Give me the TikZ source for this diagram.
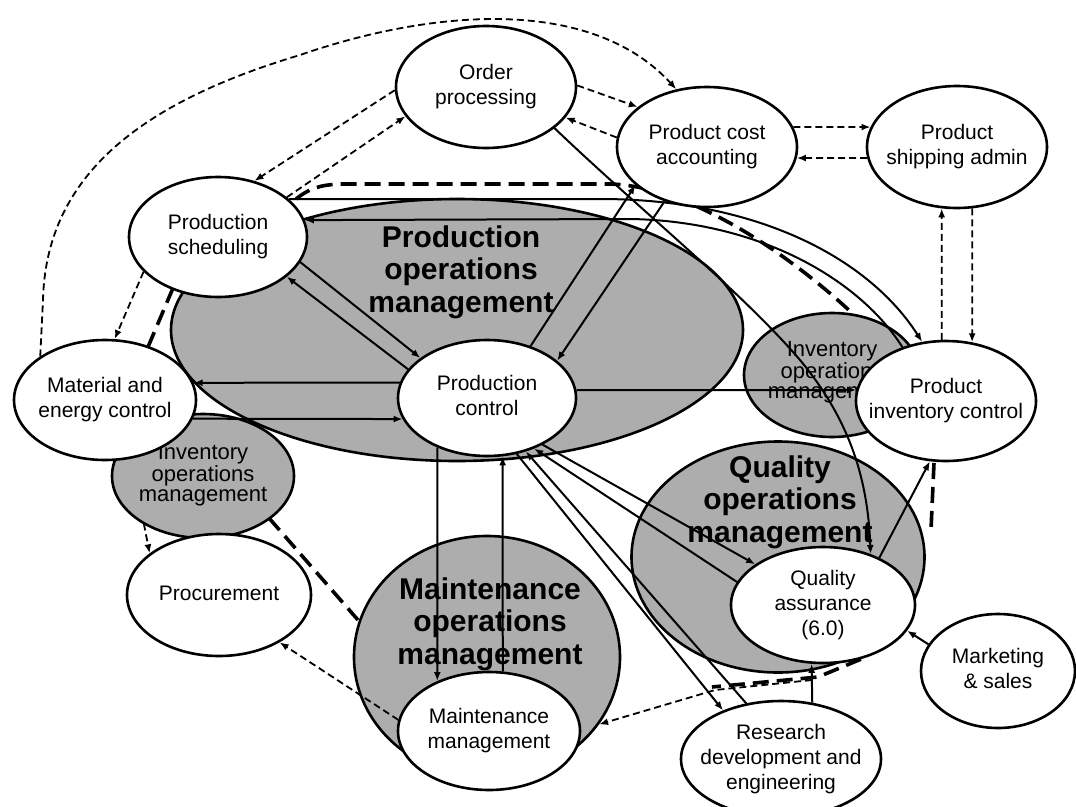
\documentclass[tikz,border=0pt]{standalone}
\usepackage{fontspec}
\setmainfont{Liberation Sans}
\usetikzlibrary{shapes.geometric,arrows.meta,calc}
\pgfdeclarelayer{back}
\pgfdeclarelayer{lines}
\pgfsetlayers{back,lines,main}
\definecolor{stip}{gray}{0.68}
\newcommand{\ztab}[1]{\makebox[0pt]{\begin{tabular}{@{}c@{}}#1\end{tabular}}}
\begin{document}
\begin{tikzpicture}[x=1pt,y=-1pt,
  fn/.style={ellipse, draw=black, line width=2.6pt, fill=white, inner sep=0pt, font=\fontsize{21}{25}\selectfont},
  opsarea/.style={ellipse, draw=black, line width=2.6pt, fill=stip, inner sep=0pt},
  biglbl/.style={inner sep=0pt, font=\fontsize{30}{32.5}\selectfont\bfseries},
  invlbl/.style={inner sep=0pt, font=\fontsize{22}{20.5}\selectfont},
  conn/.style={line width=2pt, -{Latex[length=9pt,width=7pt]}},
  dconn/.style={conn, line width=1.8pt, dash pattern=on 7pt off 4pt},
  bnd/.style={line width=3.6pt, dash pattern=on 16pt off 8pt}]
\useasboundingbox (0,0) rectangle (1076,806);

% function nodes (top layer)
\node[fn, minimum width=180pt, minimum height=122pt] (op) at (486,87) {\ztab{Order\\processing}};
\node[fn, minimum width=180pt, minimum height=120pt] (pca) at (707,147) {\ztab{Product cost\\accounting}};
\node[fn, minimum width=180pt, minimum height=122pt] (psa) at (957,147) {\ztab{Product\\shipping admin}};
\node[fn, minimum width=178pt, minimum height=120pt] (ps) at (218,237) {\ztab{Production\\scheduling}};
\node[fn, minimum width=182pt, minimum height=120pt] (me) at (105,400) {\ztab{Material and\\energy control}};
\node[fn, minimum width=178pt, minimum height=116pt] (pc) at (487,398) {\ztab{Production\\control}};
\node[fn, minimum width=180pt, minimum height=120pt] (pic) at (946,401) {\ztab{Product\\inventory control}};
\node[fn, minimum width=184pt, minimum height=122pt] (proc) at (219,595) {\ztab{Procurement}};
\node[fn, minimum width=182pt, minimum height=118pt] (mm) at (489,731) {\ztab{Maintenance\\management}};
\node[fn, minimum width=184pt, minimum height=116pt] (qa) at (823,605) {\ztab{Quality\\assurance\\(6.0)}};
\node[fn, minimum width=200pt, minimum height=116pt] (rde) at (781,759) {\ztab{Research\\development and\\engineering}};
\node[fn, minimum width=154pt, minimum height=114pt] (ms) at (998,671) {\ztab{Marketing\\\& sales}};

\begin{pgfonlayer}{back}
\draw[dconn] (me.294) -- (proc.149);
\node[opsarea, minimum width=572pt, minimum height=262pt] (pom) at (457,330) {};
\node[opsarea, minimum width=182pt, minimum height=124pt] (invL) at (203,476) {};
\node[opsarea, minimum width=176pt, minimum height=124pt] (invR) at (832,375) {};
\node[opsarea, minimum width=293pt, minimum height=231pt] (qom) at (778,557) {};
\node[opsarea, minimum width=266pt, minimum height=242pt] (mom) at (487,657) {};
\node[biglbl] (pomt) at (461,273) {\ztab{Production\\operations\\management}};
\node[biglbl] (momt) at (490,625) {\ztab{Maintenance\\operations\\management}};
\node[biglbl] (qomt) at (780,503) {\ztab{Quality\\operations\\management}};
\node[invlbl] (invLt) at (203,476) {\ztab{Inventory\\operations\\management}};
\node[invlbl] (invRt) at (832,373) {\ztab{Inventory\\operations\\management}};
\end{pgfonlayer}

\begin{pgfonlayer}{lines}
% long dashed arc
\draw[dconn] (me.146) -- (43,300) .. controls (46,170) and (150,100) .. (300,55) .. controls (430,10) and (590,-5) .. (pca.118);
% dashed pairs
\draw[dconn] (op.182) -- (ps.57);
\draw[dconn] (ps.30) -- (op.200);
\draw[dconn] (op.1) -- (pca.150);
\draw[dconn] (pca.174) -- (op.339);
\draw[dconn] (pca.13) -- (psa.167);
\draw[dconn] (psa.187) -- (pca.353);
\draw[dconn] (pic.94) -- (psa.256);
\draw[dconn] (psa.284) -- (pic.66);
\draw[dconn] (ps.205) -- (me.81);
\draw[dconn] (mm.173) -- (proc.322);
% solid connectors
\draw[conn] (op.329) .. controls (640,210) and (740,290) .. (800,360) .. controls (850,420) and (868,480) .. (qa.47);
\draw[conn] (ps.28) -- (600,199) .. controls (760,199) and (870,260) .. (pic.112);
\draw[conn] (pic.129) .. controls (860,280) and (760,221) .. (630,219) -- (ps.11);
\draw[conn] (pc.170) -- (me.11);
\draw[conn] (me.348) -- (pc.194);
\draw[conn] (ps.343) -- (pc.149);
\draw[conn] (pc.160) -- (ps.330);
\draw[conn] (pc.5) -- (pic.173);
\draw[conn] (pc.50) -- (pca.208);
\draw[conn] (pca.232) -- (pc.28);
\draw[conn] (pc.225) -- (mm.136);
\draw[conn] (mm.77) -- (pc.285);
\draw[conn] (pc.298) -- (rde.140);
\draw[conn] (rde.122) -- (pc.306);
\draw[conn] (pc.320) -- (qa.149);
\draw[conn] (qa.165) -- (pc.313);
\draw[conn] (qa.40) -- (pic.255);
\draw[conn] (ms.159) -- (qa.343);
\draw[conn] (rde.61) -- (qa.259);
\coordinate (jn) at (812,680);
\draw[dconn] (jn) -- (715,690) -- (mom.329);
% enterprise/control boundary
\draw[bnd] (296,199) .. controls (310,188) and (320,185) .. (340,184) -- (610,184) .. controls (690,186) and (790,255) .. (852,313);
\draw[bnd] (173,288) -- (148,347);
\draw[bnd] (269,518) -- (358,620);
\draw[bnd] (934,463) -- (931,530);
\draw[bnd] (qa.305) -- (818,677) -- (712,687);
\end{pgfonlayer}
\end{tikzpicture}
\end{document}
